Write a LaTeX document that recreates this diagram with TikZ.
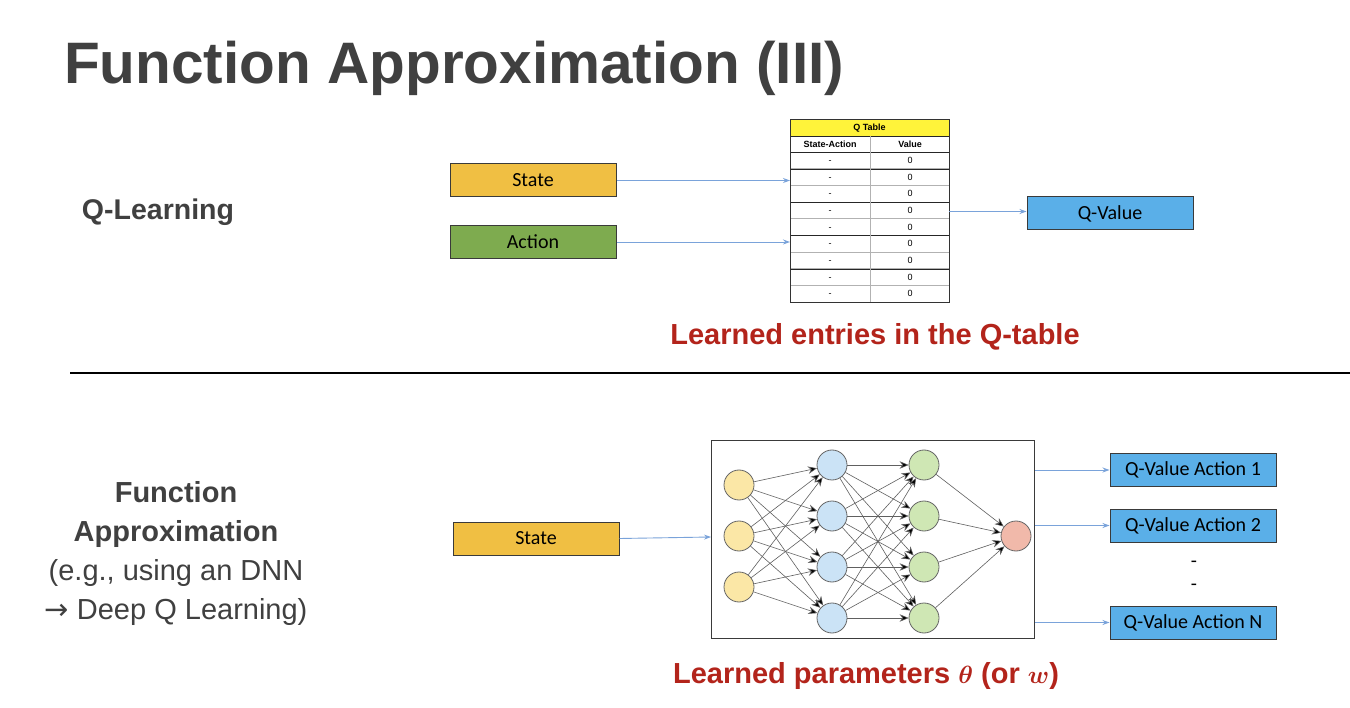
\documentclass[tikz,border=0pt]{standalone}
\usepackage{fontspec}
\setmainfont{Liberation Sans}
\newfontfamily\calfont{Carlito}
\newfontfamily\dejafont{DejaVu Sans}
\usetikzlibrary{arrows.meta}
\definecolor{titlegray}{HTML}{404040}
\definecolor{redlab}{HTML}{B3241B}
\definecolor{stateor}{HTML}{F0BF43}
\definecolor{actgreen}{HTML}{7EAB4F}
\definecolor{qblue}{HTML}{5AAFE8}
\definecolor{arrblue}{HTML}{7AA3DA}
\definecolor{boxline}{HTML}{3A3A3A}
\definecolor{inyel}{HTML}{FBE7A6}
\definecolor{hblue}{HTML}{CBE3F6}
\definecolor{hgreen}{HTML}{CFE7B4}
\definecolor{outred}{HTML}{F1B9AA}
\definecolor{tabyel}{HTML}{FFF33A}
\begin{document}
\begin{tikzpicture}[x=1pt,y=-1pt,
  cbox/.style={draw=boxline,line width=1pt,minimum width=166pt,minimum height=33pt,inner sep=0pt,font=\calfont\fontsize{20}{22}\selectfont},
  barrow/.style={draw=arrblue,line width=0.9pt,-{Stealth[length=7pt,width=5pt]}},
  neuron/.style={circle,draw=gray!80!black,line width=0.8pt,minimum size=30pt,inner sep=0pt},
  nnedge/.style={draw=gray!75!black,line width=0.6pt,-{Stealth[length=9pt,width=7.5pt,fill=black]}},
  tabtxt/.style={font=\fontsize{9}{10}\selectfont,inner sep=0pt,anchor=base},
  lefttxt/.style={text=titlegray,font=\fontsize{29}{39}\selectfont,align=center},
  redtxt/.style={text=redlab,font=\fontsize{29}{32}\bfseries\selectfont}
]
\useasboundingbox[fill=white] (0,0) rectangle (1350,708);

% title
\node[anchor=base west,text=titlegray,font=\fontsize{58.5}{60}\bfseries\selectfont,inner sep=0pt] (title) at (64,84) {Function Approximation (III)};

% divider
\coordinate (dl) at (70,373);
\coordinate (dr) at (1350,373);
\draw[line width=2pt] (dl) -- (dr);

% ---------- top part
\node[text=titlegray,font=\fontsize{28.5}{32}\bfseries\selectfont] (ql) at (158,212) {Q-Learning};

\node[cbox,fill=stateor] (state) at (533,180.5) {State};
\node[cbox,fill=actgreen] (action) at (533,242) {Action};
\node[cbox,fill=qblue] (qv) at (1110,213.5) {Q-Value};

% Q table
\node[anchor=north west,minimum width=159pt,minimum height=183pt,inner sep=0pt] (qtab) at (790,119) {};
\fill[tabyel] (790,119) rectangle (949,136);
\foreach \i in {0,...,8}{
  \pgfmathsetmacro{\ya}{152+\i*16.67}
  \draw[gray!60,line width=0.6pt] (790,\ya) -- (949,\ya);
  \node[tabtxt] at (830,\ya+11.5) {-};
  \node[tabtxt] at (910,\ya+11.5) {0};
}
\foreach \y in {169,202,235,269,302}{\draw[black!85,line width=0.9pt] (790,\y) -- (949,\y);}
\draw[black!85,line width=0.9pt] (790,136) -- (949,136) (790,152) -- (949,152);
\draw[gray!60,line width=0.8pt] (870,136) -- (870,302);
\draw[black!80,line width=0.9pt] (790,119) rectangle (949,302);
\node[tabtxt,font=\fontsize{9}{10}\bfseries\selectfont] at (869.5,131) {Q Table};
\node[tabtxt,font=\fontsize{9}{10}\bfseries\selectfont] at (830,147.5) {State-Action};
\node[tabtxt,font=\fontsize{9}{10}\bfseries\selectfont] at (910,147.5) {Value};

\draw[barrow] (state.east) -- (qtab.west |- state.east);
\draw[barrow] (action.east) -- (qtab.west |- action.east);
\draw[barrow] (qtab.east |- 0,211.5) -- (qv.west |- 0,211.5);

\node[redtxt] (lab1) at (875,337) {Learned entries in the Q-table};

% ---------- bottom part
\node[lefttxt] (fa) at (176,554) {\textbf{Function}\\\textbf{Approximation}\\(e.g., using an DNN\\{\dejafont\fontsize{29}{29}\selectfont →} Deep Q Learning)};

\node[cbox,fill=stateor] (state2) at (536,538.5) {State};

\node[draw=boxline,line width=1pt,minimum width=323pt,minimum height=198pt,inner sep=0pt,anchor=north west] (nn) at (711,440) {};

\foreach \j/\y in {1/485,2/536,3/587}{\node[neuron,fill=inyel] (i\j) at (739,\y) {};}
\foreach \j/\y in {1/465,2/516,3/567,4/618}{\node[neuron,fill=hblue] (h\j) at (832,\y) {};}
\foreach \j/\y in {1/465,2/516,3/567,4/618}{\node[neuron,fill=hgreen] (g\j) at (924,\y) {};}
\node[neuron,fill=outred] (o) at (1016,536) {};

\foreach \a in {1,2,3}{\foreach \b in {1,...,4}{\draw[nnedge] (i\a) -- (h\b);}}
\foreach \a in {1,...,4}{\foreach \b in {1,...,4}{\draw[nnedge] (h\a) -- (g\b);}}
\foreach \a in {1,...,4}{\draw[nnedge] (g\a) -- (o);}

\draw[barrow] (state2.east) -- (nn.west |- 0,537);

\node[cbox,fill=qblue] (qa1) at (1193,470) {Q-Value Action 1};
\node[cbox,fill=qblue] (qa2) at (1193,525.5) {Q-Value Action 2};
\node[cbox,fill=qblue] (qan) at (1193,622.5) {Q-Value Action N};
\node[font=\calfont\fontsize{20}{22}\selectfont,anchor=base,inner sep=0pt] (d1) at (1194,567) {-};
\node[font=\calfont\fontsize{20}{22}\selectfont,anchor=base,inner sep=0pt] (d2) at (1194,590) {-};

\draw[barrow] (nn.east |- qa1.west) -- (qa1.west);
\draw[barrow] (nn.east |- qa2.west) -- (qa2.west);
\draw[barrow] (nn.east |- qan.west) -- (qan.west);

\node[redtxt] (lab2) at (866,676) {Learned parameters {\boldmath$\theta$} (or {\boldmath$w$})};
\end{tikzpicture}
\end{document}
